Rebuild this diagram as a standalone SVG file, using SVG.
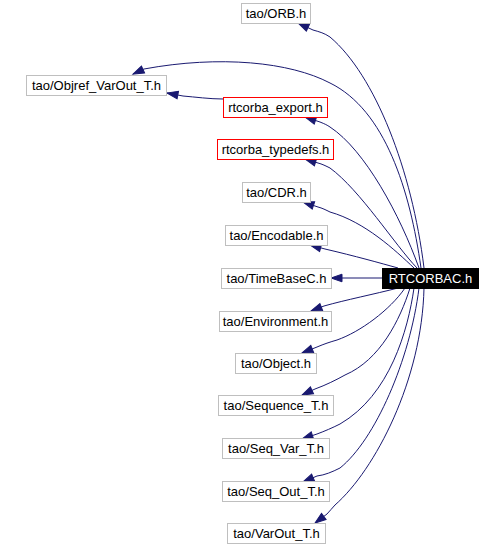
<svg xmlns="http://www.w3.org/2000/svg" width="502" height="545" viewBox="0 0 502 545">
<defs>
<style>
.n rect{fill:#ffffff;stroke:#bfbfbf;stroke-width:1}
.n.r rect{stroke:#ff0000}
.n text{font-family:"Liberation Sans",Arial,Helvetica,sans-serif;font-size:13px;fill:#000000;text-anchor:middle}
.n.m rect{fill:#000000;stroke:#000000}
.n.m text{fill:#ffffff}
#edges path{fill:none;stroke:#191970;stroke-width:1;marker-end:url(#arr)}
</style>
<marker id="arr" markerUnits="userSpaceOnUse" markerWidth="14" markerHeight="10" refX="12" refY="5" orient="auto" overflow="visible">
<path d="M1,1.2 L12,5 L1,8.8 z" fill="#191970" stroke="#191970" stroke-width="1"/>
</marker>
</defs>
<rect width="502" height="545" fill="#ffffff"/>
<g id="edges">
<path d="M424,268 C412,170 375,75 330,37 C324,33 320,32 313,30 L298,23"/>
<path d="M421,268 C410,190 385,110 330,83 C290,62 220,55 144,69 L133,74"/>
<path d="M223,99 C210,99 195,97 183,96 L167,93"/>
<path d="M419,268 C400,215 365,150 330,127 C327,125 325,124 320,122 L305,117"/>
<path d="M417,268 C395,245 360,190 330,168 C326,166 322,164 318,163 L305,159"/>
<path d="M414,268 C395,250 365,222 330,212 C326,210 322,208 318,207 L303,202"/>
<path d="M398,268 C380,263 355,256 325,249 L310,245"/>
<path d="M382,278 L331,278"/>
<path d="M398,288 C375,294 345,300 324,306 L311,311"/>
<path d="M405,288 C390,310 360,332 337,340 C330,342 324,344 317,347 L302,353"/>
<path d="M410,288 C400,320 380,360 345,375 C336,380 326,385 315,389 L302,395"/>
<path d="M414,288 C408,330 390,395 340,424 C332,428 325,431 317,434 L302,439"/>
<path d="M419,288 C410,360 375,440 340,468 C332,472 325,475 317,476 L303,482"/>
<path d="M424,288 C422,380 375,470 335,505 C332,508 330,511 327,514 L315,523"/>
</g>
<g id="n-orb" class="n"><rect x="241.5" y="3.5" width="69" height="20"/><text x="276" y="18">tao/ORB.h</text></g>
<g id="n-objref" class="n"><rect x="26.5" y="75.5" width="140" height="20"/><text x="96.5" y="90">tao/Objref_VarOut_T.h</text></g>
<g id="n-export" class="n r"><rect x="223.5" y="97.5" width="104" height="20"/><text x="275.5" y="112">rtcorba_export.h</text></g>
<g id="n-typedefs" class="n r"><rect x="217.5" y="139.5" width="116" height="20"/><text x="275.5" y="154">rtcorba_typedefs.h</text></g>
<g id="n-cdr" class="n"><rect x="242.5" y="182.5" width="68" height="20"/><text x="276.5" y="197">tao/CDR.h</text></g>
<g id="n-encodable" class="n"><rect x="225.5" y="225.5" width="102" height="20"/><text x="276.5" y="240">tao/Encodable.h</text></g>
<g id="n-timebase" class="n"><rect x="221.5" y="268.5" width="110" height="20"/><text x="276.5" y="283">tao/TimeBaseC.h</text></g>
<g id="n-rtcorbac" class="n m"><rect x="382.5" y="268.5" width="96" height="20"/><text x="430.5" y="283">RTCORBAC.h</text></g>
<g id="n-environment" class="n"><rect x="219.5" y="311.5" width="112" height="20"/><text x="275.5" y="326">tao/Environment.h</text></g>
<g id="n-object" class="n"><rect x="235.5" y="353.5" width="81" height="20"/><text x="276" y="368">tao/Object.h</text></g>
<g id="n-sequence" class="n"><rect x="218.5" y="395.5" width="115" height="20"/><text x="276" y="410">tao/Sequence_T.h</text></g>
<g id="n-seqvar" class="n"><rect x="222.5" y="438.5" width="107" height="20"/><text x="276" y="453">tao/Seq_Var_T.h</text></g>
<g id="n-seqout" class="n"><rect x="222.5" y="481.5" width="107" height="20"/><text x="276" y="496">tao/Seq_Out_T.h</text></g>
<g id="n-varout" class="n"><rect x="227.5" y="523.5" width="98" height="20"/><text x="276.5" y="538">tao/VarOut_T.h</text></g>
</svg>
